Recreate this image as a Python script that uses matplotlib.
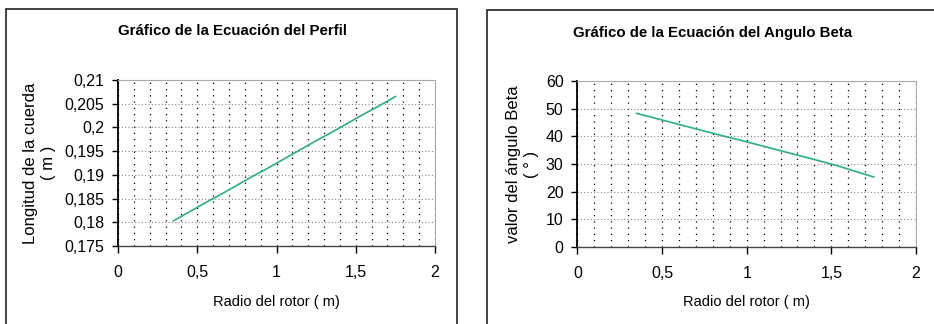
import matplotlib
matplotlib.use("Agg")
import matplotlib.pyplot as plt
from matplotlib.patches import Rectangle
from matplotlib.ticker import FuncFormatter, MultipleLocator

plt.rcParams['font.family'] = ['Liberation Sans', 'DejaVu Sans']

# radio del rotor (m)
radio = [0.35, 0.45, 0.55, 0.65, 0.75, 0.85, 0.95, 1.05, 1.15, 1.25, 1.35, 1.45, 1.55, 1.65, 1.75]
# longitud de la cuerda (m)
cuerda = [0.1803, 0.1822, 0.1841, 0.1859, 0.1878, 0.1897, 0.1915, 0.1934,
          0.1953, 0.1972, 0.1990, 0.2009, 0.2028, 0.2046, 0.2065]
# angulo beta (grados)
beta = [48.3, 46.7, 45.1, 43.5, 41.9, 40.3, 38.8, 37.2, 35.6, 34.0, 32.4, 30.8, 29.1, 27.2, 25.3]

W, H = 934, 324
fig = plt.figure(figsize=(W / 100, H / 100), dpi=100)

line_color = '#2bb07f'
comma = FuncFormatter(lambda v, pos: f"{v:g}".replace('.', ','))


def px(x, y):
    return x / W, 1 - y / H


def make_axes(rect, ys, ylim, ystep, title, title_xy, ylabel, ylabel_x):
    ax = fig.add_axes(rect)
    ax.plot(radio, ys, color=line_color, lw=1.2)
    ax.set_xlim(0, 2)
    ax.set_ylim(*ylim)
    ax.xaxis.set_major_locator(MultipleLocator(0.5))
    ax.xaxis.set_minor_locator(MultipleLocator(0.1))
    ax.yaxis.set_major_locator(MultipleLocator(ystep))
    ax.xaxis.set_major_formatter(comma)
    ax.yaxis.set_major_formatter(comma)
    ax.tick_params(axis='x', which='major', direction='out', length=5, width=1,
                   pad=9, labelsize=11.5, color='black')
    ax.tick_params(axis='x', which='minor', length=0)
    ax.tick_params(axis='y', direction='out', length=4, width=1, pad=6,
                   labelsize=11.5, color='black')
    # grid: vertical dotted at every 0.1, horizontal dotted at majors
    ax.grid(True, axis='x', which='minor', color='black', linestyle=(0, (1, 4)), lw=0.9)
    ax.grid(True, axis='x', which='major', color='black', linestyle=(0, (1, 4)), lw=0.9)
    ax.grid(True, axis='y', which='major', color='#888888', linestyle=(0, (1, 2)), lw=0.8)
    ax.set_axisbelow(True)
    ax.spines['left'].set_color('black')
    ax.spines['left'].set_linewidth(1.3)
    ax.spines['bottom'].set_color('#444444')
    ax.spines['bottom'].set_linewidth(1.0)
    for s in ('top', 'right'):
        ax.spines[s].set_color('#aaaaaa')
        ax.spines[s].set_linewidth(0.8)
    tx, ty = px(*title_xy)
    fig.text(tx, ty, title, ha='center', va='center', fontsize=10.8, fontweight='bold')
    bb = ax.get_position()
    fig.text(bb.x0 + bb.width / 2, px(0, 302)[1], 'Radio del rotor ( m)',
             ha='center', va='center', fontsize=10.5)
    fig.text(px(ylabel_x, 0)[0], bb.y0 + bb.height / 2, ylabel, rotation=90,
             ha='center', va='center', multialignment='center', fontsize=12)
    return ax


make_axes([118 / W, 1 - 246 / H, 317 / W, 166 / H], cuerda, (0.175, 0.21), 0.005,
          'Gráfico de la Ecuación del Perfil', (232, 31),
          'Longitud de la cuerda\n( m )', 39.5)
make_axes([577.4 / W, 1 - 247 / H, 338.6 / W, 166 / H], beta, (0, 60), 10,
          'Gráfico de la Ecuación del Angulo Beta', (713, 33),
          'valor del ángulo Beta\n( ° )', 522.5)

# outer chart frames
fig.add_artist(Rectangle((6 / W, -0.1), 451 / W, 1.1 - 9 / H + 0.0, transform=fig.transFigure,
                         fill=False, edgecolor='#222222', lw=1.2))
fig.add_artist(Rectangle((487 / W, -0.1), 0.6, 1.1 - 10 / H, transform=fig.transFigure,
                         fill=False, edgecolor='#222222', lw=1.2))

fig.savefig('out.png', dpi=100)
